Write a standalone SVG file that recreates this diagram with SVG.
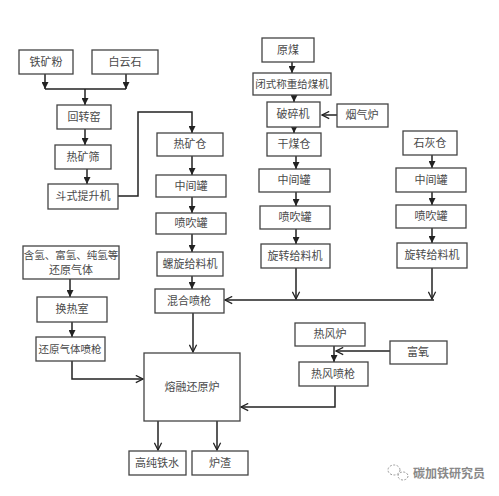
<svg xmlns="http://www.w3.org/2000/svg" width="499" height="496" viewBox="0 0 499 496">
<defs>
<style>
.b rect{fill:#fff;stroke:#444;stroke-width:1.3}
.b text{font-family:"Noto Sans CJK SC","Noto Sans CJK TC",sans-serif;font-size:11px;fill:#4a4a4a;text-anchor:middle}
.c path{fill:none;stroke:#222;stroke-width:1.5}
.t{marker-end:url(#tri)}
.v{marker-end:url(#chev)}
</style>
<marker id="tri" viewBox="0 0 10 10" refX="10" refY="5" markerWidth="7" markerHeight="7" markerUnits="userSpaceOnUse" orient="auto"><path d="M0,0 L10,5 L0,10 z" fill="#222"/></marker>
<marker id="chev" viewBox="0 0 10 10" refX="9" refY="5" markerWidth="9" markerHeight="9" markerUnits="userSpaceOnUse" orient="auto"><path d="M1,1 L9,5 L1,9" fill="none" stroke="#222" stroke-width="1.4"/></marker>
</defs>
<rect width="499" height="496" fill="#fff"/>
<g class="c">
<path class="t" d="M45,74 V89"/>
<path class="t" d="M126,74 V89"/>
<path d="M45,89 H126"/>
<path class="t" d="M85,89 V105"/>
<path class="t" d="M85,129 V145"/>
<path class="t" d="M87,169 V184"/>
<path class="t" d="M118,196 H138 V112 H192 V133"/>
<path class="t" d="M192,156 V175"/>
<path class="t" d="M192,197 V213"/>
<path class="t" d="M192,234 V252"/>
<path class="t" d="M192,276 V289"/>
<path class="v" d="M193,313 V352"/>
<path class="t" d="M70,279 V297"/>
<path class="t" d="M72,321 V337"/>
<path class="v" d="M72,361 V379 H143"/>
<path class="v" d="M158,421 V450"/>
<path class="v" d="M217,421 V450"/>
<path class="t" d="M292,62 V73"/>
<path class="t" d="M294,95 V102"/>
<path class="v" d="M337,115 H322"/>
<path class="t" d="M294,127 V133"/>
<path class="t" d="M296,156 V169"/>
<path class="t" d="M296,192 V206"/>
<path class="t" d="M296,229 V244"/>
<path class="v" d="M296,268 V299"/>
<path class="t" d="M432,155 V168"/>
<path class="t" d="M432,192 V205"/>
<path class="t" d="M432,228 V243"/>
<path class="v" d="M432,268 V299"/>
<path class="v" d="M434,300 H225"/>
<path class="t" d="M334,346 V362"/>
<path class="v" d="M390,351 H336"/>
<path class="v" d="M335,386 V407 H241"/>
</g>
<g class="b">
<g id="n-tiekuangfen"><rect x="19" y="50" width="54" height="24"/><text x="46" y="66">铁矿粉</text></g>
<g id="n-baiyunshi"><rect x="92" y="50" width="66" height="24"/><text x="125" y="66">白云石</text></g>
<g id="n-huizhuanyao"><rect x="57" y="105" width="54" height="24"/><text x="84" y="121">回转窑</text></g>
<g id="n-rekuangshai"><rect x="55" y="145" width="56" height="24"/><text x="83" y="161">热矿筛</text></g>
<g id="n-doushi"><rect x="48" y="184" width="70" height="25"/><text x="83" y="200">斗式提升机</text></g>
<g id="n-rekuangcang"><rect x="157" y="133" width="66" height="23"/><text x="190" y="148">热矿仓</text></g>
<g id="n-zhongjian1"><rect x="156" y="175" width="70" height="22"/><text x="191" y="190">中间罐</text></g>
<g id="n-penchui1"><rect x="156" y="213" width="70" height="21"/><text x="191" y="227">喷吹罐</text></g>
<g id="n-luoxuan"><rect x="157" y="252" width="66" height="24"/><text x="190" y="268">螺旋给料机</text></g>
<g id="n-hunhe"><rect x="155" y="289" width="69" height="24"/><text x="189" y="305">混合喷枪</text></g>
<g id="n-qingqi"><rect x="23" y="246" width="96" height="33"/><text x="71" y="259" style="font-size:10.5px">含氢、富氢、纯氢等</text><text x="71" y="274">还原气体</text></g>
<g id="n-huanre"><rect x="37" y="297" width="70" height="25"/><text x="72" y="313">换热室</text></g>
<g id="n-huanyuanpenqiang"><rect x="36" y="337" width="69" height="24"/><text x="70" y="353" style="font-size:10.5px">还原气体喷枪</text></g>
<g id="n-ronrong"><rect x="144" y="353" width="96" height="68"/><text x="192" y="391">熔融还原炉</text></g>
<g id="n-tieshui"><rect x="129" y="451" width="57" height="24"/><text x="157" y="467">高纯铁水</text></g>
<g id="n-luzha"><rect x="192" y="451" width="56" height="24"/><text x="220" y="467">炉渣</text></g>
<g id="n-yuanmei"><rect x="262" y="38" width="52" height="24"/><text x="288" y="54">原煤</text></g>
<g id="n-bishi"><rect x="253" y="73" width="78" height="22"/><text x="292" y="88" style="font-size:10.5px">闭式称重给煤机</text></g>
<g id="n-posui"><rect x="267" y="102" width="53" height="25"/><text x="293" y="118">破碎机</text></g>
<g id="n-yanqilu"><rect x="337" y="104" width="51" height="23"/><text x="362" y="119">烟气炉</text></g>
<g id="n-ganmeicang"><rect x="267" y="133" width="54" height="23"/><text x="294" y="148">干煤仓</text></g>
<g id="n-zhongjian2"><rect x="259" y="169" width="71" height="23"/><text x="294" y="184">中间罐</text></g>
<g id="n-penchui2"><rect x="260" y="206" width="70" height="23"/><text x="295" y="221">喷吹罐</text></g>
<g id="n-xuanzhuan1"><rect x="261" y="244" width="69" height="24"/><text x="295" y="260">旋转给料机</text></g>
<g id="n-shihuicang"><rect x="403" y="131" width="54" height="24"/><text x="430" y="147">石灰仓</text></g>
<g id="n-zhongjian3"><rect x="396" y="168" width="70" height="24"/><text x="431" y="184">中间罐</text></g>
<g id="n-penchui3"><rect x="396" y="205" width="70" height="23"/><text x="431" y="220">喷吹罐</text></g>
<g id="n-xuanzhuan2"><rect x="397" y="243" width="70" height="25"/><text x="432" y="259">旋转给料机</text></g>
<g id="n-refenglu"><rect x="295" y="323" width="70" height="23"/><text x="330" y="338">热风炉</text></g>
<g id="n-fuyang"><rect x="390" y="341" width="57" height="23"/><text x="418" y="356">富氧</text></g>
<g id="n-refengpenqiang"><rect x="299" y="362" width="69" height="24"/><text x="333" y="378">热风喷枪</text></g>
</g>
<g id="watermark">
<ellipse cx="394" cy="470" rx="6" ry="5" fill="none" stroke="#999" stroke-width="1" stroke-dasharray="2,1.5"/>
<ellipse cx="403" cy="476" rx="5" ry="4" fill="none" stroke="#999" stroke-width="1" stroke-dasharray="2,1.5"/>
<text x="413" y="478" style="font-family:'Noto Sans CJK SC',sans-serif;font-size:12px;fill:#888;font-weight:bold">碳加铁研究员</text>
</g>
</svg>
